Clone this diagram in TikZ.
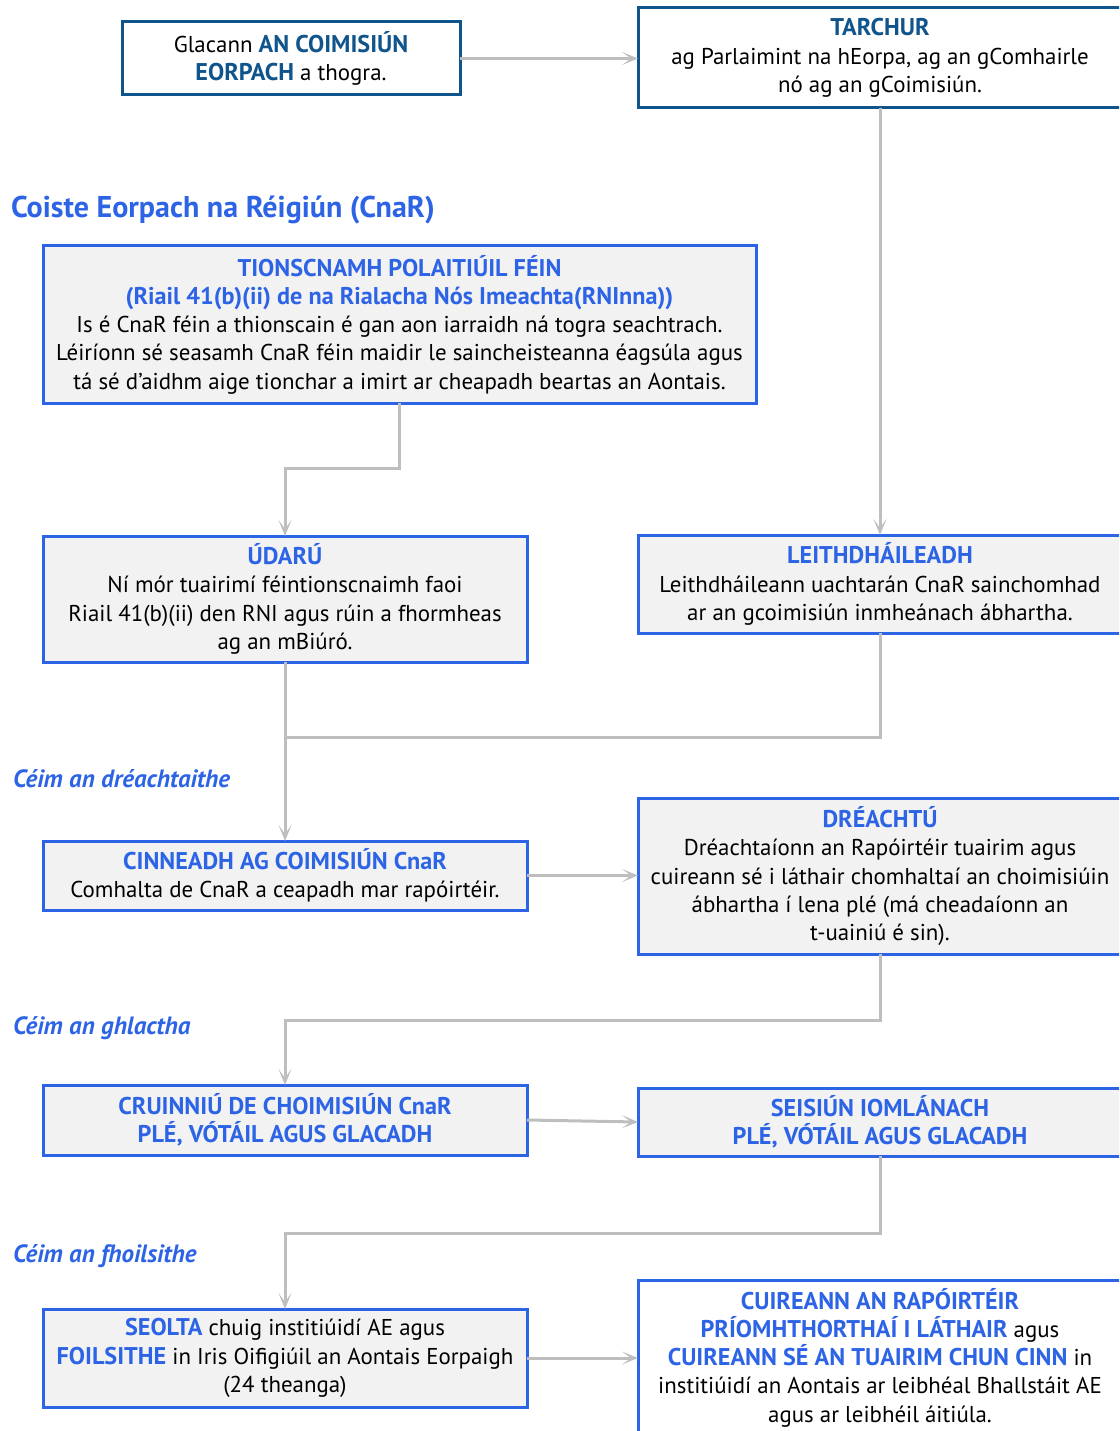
\documentclass[tikz,border=0pt]{standalone}
\usepackage{fontspec}
\setmainfont{PT Sans}
\usetikzlibrary{arrows.meta}
\definecolor{dblue}{RGB}{16,84,140}
\definecolor{bblue}{RGB}{45,100,230}
\definecolor{arr}{RGB}{190,190,190}
\definecolor{boxfill}{RGB}{242,242,242}
\newcommand{\hb}[1]{{\fontsize{24.2}{28.3}\selectfont\bfseries\color{bblue}#1}}
\newcommand{\hd}[1]{{\fontsize{24.2}{28.3}\selectfont\bfseries\color{dblue}#1}}
\tikzset{
  every node/.style={font=\fontsize{22.9}{28.3}\selectfont, inner sep=0pt, outer sep=0pt},
  topbox/.style={draw=dblue, line width=3pt, fill=white, align=center},
  cbox/.style={draw=bblue, line width=3pt, fill=boxfill, align=center},
  wbox/.style={draw=bblue, line width=3pt, fill=white, align=center},
  conn/.style={draw=arr, line width=3pt, -{Stealth[length=16pt,width=13pt,inset=9pt]}},
  link/.style={draw=arr, line width=3pt},
  stage/.style={anchor=west, font=\fontsize{25}{28}\selectfont\bfseries\itshape, text=bblue},
}
\begin{document}
\begin{tikzpicture}[x=1pt,y=-1pt]
\useasboundingbox (0,0) rectangle (1119,1431);
\clip (0,0) rectangle (1119,1431);

\node[topbox, minimum width=338pt, minimum height=73pt] (A) at (291,58.5)
  {Glacann \hd{AN COIMISIÚN}\\\hd{EORPACH} a thogra.};
\node[topbox, minimum width=484pt, minimum height=100pt] (B) at (880,58)
  {\hd{TARCHUR}\\ag Parlaimint na hEorpa, ag an gComhairle\\nó ag an gCoimisiún.};

\node[anchor=west, font=\fontsize{30}{34}\selectfont\bfseries, text=bblue] (T) at (11,210)
  {Coiste Eorpach na Réigiún (CnaR)};

\node[cbox, minimum width=713pt, minimum height=157pt] (C) at (399.5,324.5)
  {\hb{TIONSCNAMH POLAITIÚIL FÉIN}\\
   \hb{(Riail 41(b)(ii) de na Rialacha Nós Imeachta(RNInna))}\\
   Is é CnaR féin a thionscain é gan aon iarraidh ná togra seachtrach.\\
   Léiríonn sé seasamh CnaR féin maidir le saincheisteanna éagsúla agus\\
   tá sé d’aidhm aige tionchar a imirt ar cheapadh beartas an Aontais.};

\node[cbox, minimum width=484pt, minimum height=126pt] (D) at (285,599)
  {\hb{ÚDARÚ}\\Ní mór tuairimí féintionscnaimh faoi\\Riail 41(b)(ii) den RNI agus rúin a fhormheas\\ag an mBiúró.};
\node[cbox, minimum width=484pt, minimum height=98pt] (E) at (880,584)
  {\hb{LEITHDHÁILEADH}\\Leithdháileann uachtarán CnaR sainchomhad\\ar an gcoimisiún inmheánach ábhartha.};

\node[stage] (S1) at (13,779) {Céim an dréachtaithe};

\node[cbox, minimum width=484pt, minimum height=69pt] (F) at (285,875.5)
  {\hb{CINNEADH AG COIMISIÚN CnaR}\\Comhalta de CnaR a ceapadh mar rapóirtéir.};
\node[cbox, minimum width=484pt, minimum height=156pt] (G) at (880,876)
  {\hb{DRÉACHTÚ}\\Dréachtaíonn an Rapóirtéir tuairim agus\\cuireann sé i láthair chomhaltaí an choimisiúin\\ábhartha í lena plé (má cheadaíonn an\\t-uainiú é sin).};

\node[stage] (S2) at (13,1028) {Céim an ghlactha};

\node[cbox, minimum width=484pt, minimum height=70pt] (H) at (285,1120)
  {\hb{CRUINNIÚ DE CHOIMISIÚN CnaR}\\\hb{PLÉ, VÓTÁIL AGUS GLACADH}};
\node[cbox, minimum width=484pt, minimum height=68pt] (I) at (880,1122)
  {\hb{SEISIÚN IOMLÁNACH}\\\hb{PLÉ, VÓTÁIL AGUS GLACADH}};

\node[stage] (S3) at (13,1256) {Céim an fhoilsithe};

\node[cbox, minimum width=484pt, minimum height=98pt] (J) at (285,1358)
  {\hb{SEOLTA} chuig institiúidí AE agus\\\hb{FOILSITHE} in Iris Oifigiúil an Aontais Eorpaigh\\(24 theanga)};
\node[wbox, minimum width=484pt, minimum height=155pt] (K) at (880,1357.5)
  {\hb{CUIREANN AN RAPÓIRTÉIR}\\\hb{PRÍOMHTHORTHAÍ I LÁTHAIR} agus\\\hb{CUIREANN SÉ AN TUAIRIM CHUN CINN} in\\institiúidí an Aontais ar leibhéal Bhallstáit AE\\agus ar leibhéil áitiúla.};

\coordinate (j1) at (285,737);

\draw[conn] (A.east) -- (A.east -| B.west);
\draw[conn] (B.south) -- (E.north);
\draw[conn] (C.south) -- ++(0,65) -| (D.north);
\draw[conn] (D.south) -- (F.north);
\draw[link] (E.south) |- (j1);
\draw[conn] (F.east) -- (F.east -| G.west);
\draw[conn] (G.south) -- ++(0,66) -| (H.north);
\draw[conn] (H.east) -- (I.west);
\draw[conn] (I.south) -- ++(0,77) -| (J.north);
\draw[conn] (J.east) -- (J.east -| K.west);
\end{tikzpicture}
\end{document}
